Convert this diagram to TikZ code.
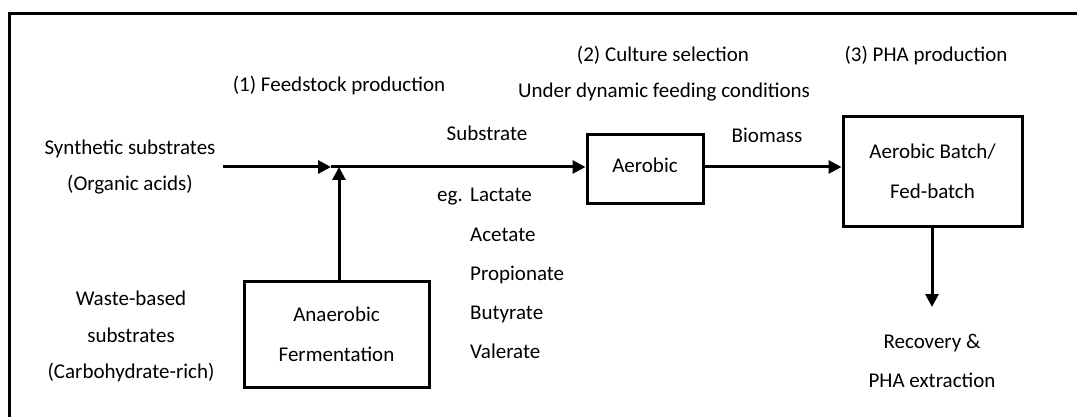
\documentclass[tikz,border=0pt]{standalone}
\usepackage{fontspec}
\setmainfont{Carlito}
\usetikzlibrary{arrows.meta}
\begin{document}
\begin{tikzpicture}[x=1pt, y=-1pt,
		every node/.style={inner sep=0pt, font=\fontsize{21}{40}\selectfont},
		label/.style={anchor=base},
		procbox/.style={draw, line width=3pt, align=center},
		flow/.style={line width=3pt, -{Triangle[length=13pt, width=13pt]}}]
	\useasboundingbox (0,0) rectangle (1077,417);
	%frame
	\draw[line width=3pt] (9,417) -- (9,14) -- (1077,14);
	%stage titles
	\node[label] (stage1) at (339, 92) {(1) Feedstock production};
	\node[label] (stage2) at (663, 62) {(2) Culture selection};
	\node[label] (stage2b) at (664, 98) {Under dynamic feeding conditions};
	\node[label] (stage3) at (926, 62) {(3) PHA production};
	%feedstocks
	\node[label] (synth) at (130, 155) {Synthetic substrates};
	\node[label] (synth2) at (130, 190) {(Organic acids)};
	\node[label] (waste) at (131, 305) {Waste-based};
	\node[label] (waste2) at (131, 342) {substrates};
	\node[label] (waste3) at (131, 378) {(Carbohydrate-rich)};
	%boxes
	\node[procbox, minimum width=185pt, minimum height=106pt] (anaer) at (336.5, 334) {Anaerobic\\Fermentation};
	\node[procbox, minimum width=116pt, minimum height=69pt, text height=15pt, text depth=10pt] (aer) at (645, 169.5) {Aerobic};
	\node[procbox, minimum width=179pt, minimum height=109pt] (batch) at (932.5, 171.5) {Aerobic Batch/\\Fed-batch};
	%substrate list
	\node[label] (subs) at (487, 141) {Substrate};
	\foreach \acid [count=\i] in {Lactate, Acetate, Propionate, Butyrate, Valerate} {
		\node[anchor=base west] (acid\i) at (470, 163+39*\i) {\acid};
	}
	\node[anchor=base east] (eg) at ([xshift=-7pt]acid1.base west) {eg.};
	\node[label] (bio) at (767, 143) {Biomass};
	\node[label] (rec) at (932, 348) {Recovery \&};
	\node[label] (rec2) at (932, 387) {PHA extraction};
	%arrows
	\coordinate (synin) at (223, 167);
	\coordinate (join) at (339, 167);
	\coordinate (recin) at (932, 307);
	\draw[flow] (synin) -- ([xshift=-8pt]join);
	\draw[flow] ([xshift=-8pt]join) -- (aer.west |- join);
	\draw[flow] (anaer.north -| join) -- (join);
	\draw[flow] (aer.east |- join) -- (batch.west |- join);
	\draw[flow] (batch.south -| recin) -- (recin);
\end{tikzpicture}
\end{document}
